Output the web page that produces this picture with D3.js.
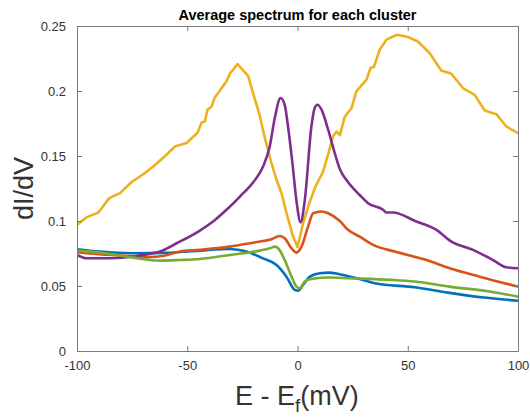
<!DOCTYPE html>
<html><head><meta charset="utf-8">
<script src="https://cdn.jsdelivr.net/npm/d3@7/dist/d3.min.js"></script>
<style>body{margin:0;background:#fff;} svg{display:block;}</style>
</head><body>
<svg id="chart" width="530" height="418"></svg>
<script>
// ---- data ----
const blueE = [-100,-89.6,-75,-60,-44.3,-30.7,-23.1,-15.6,-9.5,-5,-1.2,0.3,2.5,5.6,10.1,14.6,20.7,28.2,35,53.1,68.2,83.4,100];
const blueV = [0.0783,0.0765,0.0752,0.0755,0.0772,0.0785,0.0765,0.0712,0.0662,0.0572,0.047,0.0464,0.0508,0.0572,0.0598,0.0603,0.0585,0.0554,0.0521,0.049,0.0449,0.0413,0.0387];

const orangeE = [-100,-90,-80,-68,-60,-53.4,-44.3,-30.7,-17.1,-12.6,-8,-5.8,-2.7,-0.5,1.8,4.8,7.1,10.9,13.9,19.2,22.9,28.2,34.3,44.1,58.5,69,82.6,100];
const orangeV = [0.076,0.0745,0.0735,0.0722,0.0735,0.0765,0.0778,0.0803,0.0842,0.0855,0.0885,0.0868,0.079,0.0757,0.0803,0.0957,0.106,0.1073,0.106,0.100,0.0932,0.088,0.0816,0.0765,0.070,0.0637,0.0572,0.0495];

const yellowE = [-100,-95.5,-90.3,-85.4,-80.5,-75.2,-70,-65.4,-60,-55.6,-50.3,-45.3,-43.5,-42,-40.8,-39,-37.5,-35.2,-32.2,-30.7,-27.2,-22.4,-20.1,-17.4,-14.8,-11.8,-9.5,-7.25,-5,-2,0,2.5,5,8,11.6,14,16.1,17.7,19.2,21.4,24.5,26.7,31.3,33.1,34.6,37.3,40.3,45.1,50.1,54.6,59.9,65.2,69.8,75,80.3,84.9,90.2,94.7,100];
const yellowV = [0.097,0.103,0.1065,0.1176,0.1214,0.130,0.136,0.1419,0.150,0.1573,0.160,0.168,0.1758,0.1766,0.1856,0.188,0.195,0.2004,0.2074,0.2133,0.2207,0.2117,0.198,0.183,0.1638,0.1445,0.1317,0.1214,0.106,0.088,0.080,0.098,0.112,0.126,0.138,0.152,0.165,0.1688,0.166,0.180,0.1869,0.1997,0.2087,0.2177,0.2184,0.2318,0.2395,0.2433,0.2415,0.2381,0.2292,0.2158,0.2133,0.2023,0.1971,0.185,0.1822,0.1727,0.1676];

const purpleE = [-100,-95.6,-85,-75,-70,-62.4,-54.8,-45,-38,-32.2,-26,-20,-15.6,-12.6,-10.3,-7.7,-5.8,-4.3,-2.3,-0.5,1.4,3.3,6.3,7.8,9.1,10.9,13.9,16.9,19.2,22.9,28.2,32,38.8,40.3,43.3,53.9,63,69.8,79.6,88.6,94.7,100];
const purpleV = [0.0739,0.0714,0.0714,0.0725,0.0739,0.0765,0.0829,0.0919,0.100,0.1086,0.119,0.130,0.1419,0.1573,0.1792,0.1946,0.1894,0.1727,0.1445,0.116,0.099,0.116,0.1727,0.1869,0.1894,0.1856,0.1702,0.1522,0.140,0.130,0.120,0.1137,0.1086,0.1065,0.1065,0.0996,0.0932,0.0842,0.0778,0.070,0.0644,0.0637];

const greenE = [-100,-89.6,-74.5,-62.4,-53.4,-44.3,-30.7,-17.1,-12.6,-10.3,-8.8,-5.8,-2.7,-0.5,1,3.3,6.3,14.6,22.9,42.6,53.1,69,87.1,100];
const greenV = [0.0772,0.0757,0.0718,0.0695,0.070,0.0708,0.0739,0.0772,0.079,0.0803,0.079,0.070,0.0572,0.0495,0.0483,0.0534,0.0555,0.0565,0.056,0.0547,0.0534,0.0495,0.0457,0.0418];

const xTicks = [-100,-50,0,50,100];
const xTickLabels = ["-100","-50","0","50","100"];
const yTicks = [0,0.05,0.1,0.15,0.2,0.25];
const yTickLabels = ["0","0.05","0.1","0.15","0.2","0.25"];
const titleText = "Average spectrum for each cluster";

const seriesList = [
  {E: blueE, V: blueV, color: "#0072BD", curve: d3.curveMonotoneX},
  {E: orangeE, V: orangeV, color: "#D95319", curve: d3.curveMonotoneX},
  {E: yellowE, V: yellowV, color: "#EDB120", curve: d3.curveLinear},
  {E: purpleE, V: purpleV, color: "#7E2F8E", curve: d3.curveMonotoneX},
  {E: greenE, V: greenV, color: "#77AC30", curve: d3.curveMonotoneX}
];

// ---- layout ----
const L = 77, R = 518, T = 26, B = 351;
const svg = d3.select("#chart");
const x = d3.scaleLinear().domain([-100,100]).range([L,R]);
const y = d3.scaleLinear().domain([0,0.25]).range([B,T]);
const axisColor = "#7a7a7a";
const textColor = "#333";
const font = "'Liberation Sans', Arial, Helvetica, sans-serif";

svg.append("clipPath").attr("id", "clip").append("rect")
  .attr("x", L).attr("y", T).attr("width", R-L).attr("height", B-T);

const g = svg.append("g").attr("clip-path", "url(#clip)");
seriesList.forEach(s => {
  const pts = s.E.map((e,i) => [e, s.V[i]]);
  const line = d3.line().x(d => x(d[0])).y(d => y(d[1])).curve(s.curve);
  g.append("path").attr("d", line(pts))
    .attr("fill","none").attr("stroke", s.color)
    .attr("stroke-width", 2.6).attr("stroke-linejoin","round").attr("stroke-linecap","round");
});

// axes (box with inward ticks)
const xb = d3.axisBottom(x).tickValues(xTicks).tickSizeInner(-5).tickSizeOuter(0).tickPadding(10).tickFormat((d,i) => xTickLabels[i]);
const xt = d3.axisTop(x).tickValues(xTicks).tickSizeInner(-5).tickSizeOuter(0).tickFormat("");
const yl = d3.axisLeft(y).tickValues(yTicks).tickSizeInner(-5).tickSizeOuter(0).tickPadding(11).tickFormat((d,i) => yTickLabels[i]);
const yr = d3.axisRight(y).tickValues(yTicks).tickSizeInner(-5).tickSizeOuter(0).tickFormat("");

function style(sel){
  sel.selectAll("path").attr("stroke", axisColor).attr("stroke-width",1);
  sel.selectAll("line").attr("stroke", axisColor).attr("stroke-width",1);
  sel.selectAll("text").attr("fill", textColor).attr("font-family", font).attr("font-size", 13);
}
svg.append("g").attr("transform",`translate(0,${B})`).call(xb).call(style);
svg.append("g").attr("transform",`translate(0,${T})`).call(xt).call(style);
svg.append("g").attr("transform",`translate(${L},0)`).call(yl).call(style);
svg.append("g").attr("transform",`translate(${R},0)`).call(yr).call(style);

// title
svg.append("text").attr("x", (L+R)/2).attr("y", 20).attr("text-anchor","middle")
  .attr("font-family", font).attr("font-size", 14.5).attr("font-weight","bold").attr("fill","#000")
  .text(titleText);

// y label
svg.append("text").attr("transform", `translate(33,${(T+B)/2}) rotate(-90)`)
  .attr("text-anchor","middle").attr("font-family", font).attr("font-size", 27).attr("fill", textColor)
  .text("dI/dV");

// x label with subscript
const xl = svg.append("text").attr("x", 235).attr("y", 405)
  .attr("font-family", font).attr("font-size", 27).attr("fill", textColor);
xl.append("tspan").text("E - E");
xl.append("tspan").attr("font-size", 19).attr("dy", 7).text("f");
xl.append("tspan").attr("dy", -7).text("(mV)");
</script>
</body></html>
